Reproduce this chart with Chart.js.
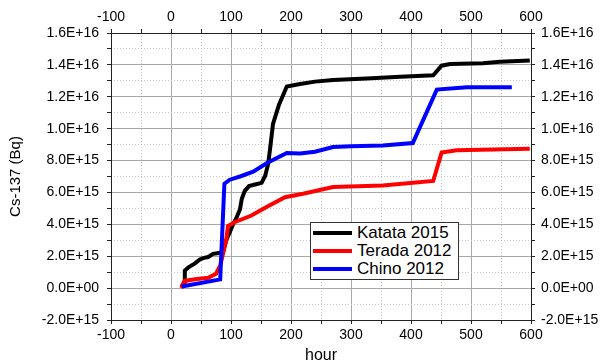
<!DOCTYPE html>
<html>
<head>
<meta charset="utf-8">
<title>Cs-137</title>
<script src="https://cdn.jsdelivr.net/npm/chart.js"></script>
<style>
  body { margin: 0; background: white; }
  #wrap { position: relative; width: 601px; height: 364px; }
  #legend { position: absolute; left: 310px; top: 222px; width: 147px; height: 55px; padding-top: 1px;
            border: 1px solid #333; background: white; color: #000;
            font-family: Arial, "Liberation Sans", sans-serif; font-size: 17px; }
  .row { height: 18px; display: flex; align-items: center; white-space: nowrap; }
  .swatch { width: 39px; height: 4px; margin: 0 5px 0 2px; }
</style>
</head>
<body>
<div id="wrap">
  <canvas id="chart" width="601" height="364"></canvas>
  <div id="legend"></div>
</div>
<script>
// values are in units of 1E+15 Bq
const seriesNames = ['Katata 2015', 'Terada 2012', 'Chino 2012'];
const seriesColors = ['#000000', '#ff0000', '#0000ff'];

const katataHours = [18, 22, 23, 29, 40, 48, 55, 62, 70, 80, 87, 92, 98, 104, 109, 115, 118, 123, 130, 140, 151, 157, 162, 166, 170, 180, 193, 215, 240, 270, 326, 382, 437, 451, 465, 520, 548, 598];
const katataValues = [0.1, 0.4, 1.1, 1.3, 1.55, 1.8, 1.9, 1.95, 2.15, 2.2, 2.3, 3.0, 3.5, 4.05, 4.4, 4.95, 5.6, 6.1, 6.4, 6.5, 6.6, 7.05, 7.8, 9.0, 10.3, 11.5, 12.65, 12.8, 12.95, 13.05, 13.15, 13.25, 13.35, 13.95, 14.05, 14.1, 14.2, 14.28];

const teradaHours = [17, 23, 40, 62, 75, 82, 87, 92, 95, 107, 134, 160, 190, 220, 270, 353, 437, 451, 476, 598];
const teradaValues = [0.0, 0.45, 0.55, 0.65, 0.9, 1.4, 2.2, 3.0, 3.9, 4.15, 4.55, 5.1, 5.7, 5.92, 6.34, 6.44, 6.72, 8.5, 8.64, 8.74];

const chinoHours = [18, 82, 89, 98, 115, 137, 160, 193, 215, 240, 270, 300, 353, 403, 443, 493, 568];
const chinoValues = [0.1, 0.55, 6.55, 6.8, 7.0, 7.3, 7.85, 8.47, 8.45, 8.55, 8.85, 8.9, 8.95, 9.1, 12.45, 12.6, 12.6];

const xMin = -100, xMax = 600, xStep = 50;
const yMin = -2, yMax = 16, yStep = 1;

function toPoints(xs, ys) { return xs.map((x, i) => ({x, y: ys[i]})); }

function sciLabel(v) {
  if (Math.round(v) % 2 !== 0) return '';
  const [m, e] = (v * 1e15).toExponential(1).split('e');
  return m + 'E' + e[0] + e.slice(1).padStart(2, '0');
}
function hourLabel(v) { return v % 100 === 0 ? String(v) : ''; }

const majorGrid = '#a8a8a8', minorGrid = '#c8c8c8', axisColor = '#222';
const isMajorX = c => c.tick && c.tick.value % 100 === 0;
const isMajorY = c => c.tick && Math.round(c.tick.value) % 2 === 0;

Chart.defaults.font.family = 'Arial, "Liberation Sans", sans-serif';
Chart.defaults.color = '#000';

const tickFont = {size: 14};
const baseX = {type: 'linear', min: xMin, max: xMax, ticks: {stepSize: xStep, autoSkip: false, font: tickFont, callback: hourLabel, maxRotation: 0}};
const baseY = {type: 'linear', min: yMin, max: yMax, ticks: {stepSize: yStep, autoSkip: false, font: tickFont, callback: sciLabel}};

const datasets = [
  {data: toPoints(katataHours, katataValues), order: 2},
  {data: toPoints(teradaHours, teradaValues), order: 1},
  {data: toPoints(chinoHours, chinoValues), order: 0}
].map((d, i) => Object.assign(d, {
  label: seriesNames[i],
  borderColor: seriesColors[i],
  backgroundColor: seriesColors[i],
  borderWidth: 4,
  pointRadius: 0,
  tension: 0,
  fill: false
}));

new Chart(document.getElementById('chart'), {
  type: 'line',
  data: {datasets},
  options: {
    responsive: false,
    animation: false,
    devicePixelRatio: 1,
    layout: {padding: 0},
    plugins: {legend: {display: false}, tooltip: {enabled: false}},
    scales: {
      x: Object.assign({}, baseX, {
        position: 'bottom',
        ticks: Object.assign({}, baseX.ticks, {padding: 3}),
        grid: {color: c => isMajorX(c) ? majorGrid : 'transparent', tickColor: axisColor, tickLength: 4},
        border: {color: axisColor},
        title: {display: true, text: 'hour', font: {size: 16}, padding: {top: 0, bottom: -1}},
        afterFit: s => { s.height = 44; }
      }),
      xTop: Object.assign({}, baseX, {
        position: 'top',
        ticks: Object.assign({}, baseX.ticks, {padding: 3}),
        grid: {drawOnChartArea: false, tickColor: axisColor, tickLength: 4},
        border: {color: axisColor},
        afterFit: s => { s.height = 33; }
      }),
      xMinor: Object.assign({}, baseX, {
        position: 'bottom',
        ticks: Object.assign({}, baseX.ticks, {display: false}),
        grid: {color: c => isMajorX(c) ? 'transparent' : minorGrid, drawTicks: false},
        border: {display: false, dash: [1, 2]},
        afterFit: s => { s.height = 0; }
      }),
      y: Object.assign({}, baseY, {
        position: 'left',
        ticks: Object.assign({}, baseY.ticks, {padding: 8}),
        grid: {color: c => isMajorY(c) ? majorGrid : 'transparent', tickColor: axisColor, tickLength: 4},
        border: {color: axisColor},
        title: {display: true, text: 'Cs-137 (Bq)', font: {size: 15}, padding: {top: 7, bottom: 0}},
        afterFit: s => { s.width = 111; }
      }),
      yRight: Object.assign({}, baseY, {
        position: 'right',
        ticks: Object.assign({}, baseY.ticks, {padding: 6}),
        grid: {drawOnChartArea: false, tickColor: axisColor, tickLength: 4},
        border: {color: axisColor},
        afterFit: s => { s.width = 70; }
      }),
      yMinor: Object.assign({}, baseY, {
        position: 'left',
        ticks: Object.assign({}, baseY.ticks, {display: false}),
        grid: {color: c => isMajorY(c) ? 'transparent' : minorGrid, drawTicks: false},
        border: {display: false, dash: [1, 2]},
        afterFit: s => { s.width = 0; }
      })
    }
  }
});

// legend box built from the dataset names and colours
const legend = document.getElementById('legend');
seriesNames.forEach((name, i) => {
  const row = document.createElement('div');
  row.className = 'row';
  const sw = document.createElement('span');
  sw.className = 'swatch';
  sw.style.background = seriesColors[i];
  const txt = document.createElement('span');
  txt.textContent = name;
  row.appendChild(sw);
  row.appendChild(txt);
  legend.appendChild(row);
});
</script>
</body>
</html>
